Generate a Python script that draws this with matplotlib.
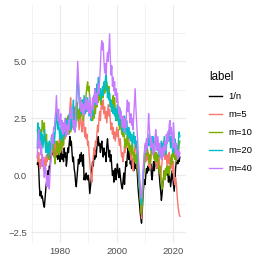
import numpy as np
import matplotlib
matplotlib.use('Agg')
import matplotlib.pyplot as plt
from matplotlib.ticker import MultipleLocator

plt.rcParams['font.family'] = ['Liberation Sans', 'DejaVu Sans']

# quarterly index, 1972 Q1 .. 2022 Q2
quarters = np.arange(1972, 2022.5, 0.25)

labels = ['1/n', 'm=5', 'm=10', 'm=20', 'm=40']
colors = ['#000000', '#F8766D', '#7CAE00', '#00BFC4', '#C77CFF']

series_1n = [
    0.5, 0.6, 0.3, -0.5,  -0.9, -0.7, -1.0, -0.9,  -1.1, -1.3, -1.4, -1.0,
    -0.6, -0.3, -0.1, 0.2,  0.0, 0.4, 0.3, 0.8,  1.1, 1.4, 0.9, 1.2,
    1.5, 1.0, 1.3, 0.8,  1.0, 0.7, 1.1, 0.9,  0.6, 1.0, 1.3, 0.7,
    0.9, 0.6, 1.2, 0.8,  1.0, 0.4, 0.7, 1.2,  1.0, 1.4, 1.7, 1.3,
    1.5, 1.0, 0.6, 0.8,  0.3, 0.1, -0.3, -0.5,  -0.1, 0.3, 0.7, 0.5,
    0.9, 0.6, 1.0, 0.7,  0.4, 0.9, -0.2, 0.0,  -0.2, 0.1, -0.1, -0.2,
    0.0, -0.3, -0.8, -0.5,  -0.2, 0.3, 0.6, 0.4,  0.9, 0.7, 1.1, 0.8,
    1.2, 1.5, 1.7, 1.3,  1.4, 1.0, 1.3, 1.5,  1.1, 0.8, 1.2, 0.9,
    1.0, 0.6, 1.3, 1.6,  1.2, 0.8, 1.1, 0.6,  0.9, 0.4, 0.0, 0.2,
    -0.3, 0.1, 0.3, -0.2,  0.2, 0.5, 0.1, -0.1,  0.3, 0.0, -0.3, -0.5,
    -0.6, -0.2, 0.1, -0.4,  0.2, 0.6, 0.4, 0.9,  1.2, 0.7, 1.0, 0.5,
    0.6, 0.3, 0.7, 0.5,  0.2, 0.6, 0.4, 0.3,  0.5, 0.1, -0.5, -0.9,
    -1.2, -1.6, -1.9, -2.1,  -1.6, -0.9, -0.5, -0.2,  -0.4, 0.0, 0.3, 0.1,
    0.4, 0.2, 0.6, 0.3,  0.5, 0.0, -0.2, 0.3,  0.6, 0.2, 0.5, 0.9,
    0.7, 0.3, 0.8, 0.4,  0.0, -0.4, -0.7, -1.1,  -0.8, -0.4, -0.1, 0.2,
    -0.1, 0.3, 0.0, 0.4,  0.1, -0.3, 0.2, -0.2,  -0.5, -0.2, 0.2, -0.1,
    -0.4, -0.7, -0.3, 0.3,  0.6, 0.8, 0.5, 0.7,  0.6, 0.8,
]

series_m5 = [
    0.8, 0.6, 1.0, 0.5,  0.3, 0.7, 0.4, 0.9,  0.6, 0.2, 0.5, 0.8,
    0.4, 0.9, 0.6, 1.0,  0.7, 1.2, 0.9, 1.3,  1.0, 1.4, 1.1, 0.8,
    1.2, 1.5, 1.0, 1.3,  0.9, 1.4, 1.1, 1.6,  1.3, 1.0, 1.5, 1.2,
    1.7, 1.4, 2.0, 1.6,  2.2, 1.8, 2.5, 2.1,  2.6, 2.2, 3.0, 3.4,
    2.9, 2.4, 2.7, 2.1,  2.5, 1.9, 2.2, 2.8,  3.2, 2.6, 2.3, 2.0,
    2.4, 2.8, 2.2, 1.9,  2.3, 2.6, 2.0, 1.7,  2.1, 1.6, 1.8, 1.3,
    1.5, 1.0, 0.6, 0.2,  -0.1, -0.3, 0.3, 0.8,  1.2, 0.9, 1.5, 1.3,
    1.8, 2.2, 1.9, 2.5,  2.8, 2.4, 3.0, 3.2,  2.9, 3.3, 2.7, 3.0,
    2.5, 2.8, 2.3, 2.7,  3.1, 2.6, 2.9, 2.4,  2.0, 2.3, 1.8, 2.1,
    1.6, 1.9, 1.5, 1.8,  2.1, 1.7, 2.0, 1.5,  1.3, 1.6, 1.1, 0.8,
    1.0, 0.6, 0.9, 1.3,  1.0, 1.5, 1.2, 1.8,  2.0, 1.6, 1.3, 1.0,
    0.7, 1.2, 0.5, 0.2,  0.6, 1.0, 1.5, 1.2,  0.8, 0.3, 0.6, 0.0,
    -0.3, -0.8, -1.4, -1.9,  -1.2, -0.5, 0.2, 0.5,  0.9, 0.6, 1.1, 0.7,
    1.0, 0.4, 0.7, 0.3,  0.6, 1.0, 1.5, 1.1,  0.8, 1.4, 0.9, 0.5,
    0.8, 0.3, 0.6, 1.0,  0.7, 0.2, -0.2, 0.3,  0.6, 1.1, 1.5, 1.0,
    0.7, 1.2, 0.8, 0.4,  0.9, 0.5, 1.0, 0.6,  0.3, 0.8, 0.5, 0.1,
    0.6, -0.2, -0.4, -0.1,  -0.3, -0.8, -1.2, -1.5,  -1.7, -1.8,
]

series_m10 = [
    2.0, 1.6, 1.2, 1.8,  1.4, 2.0, 1.7, 2.4,  2.2, 1.9, 2.3, 1.6,
    1.3, 1.8, 1.0, 1.4,  1.1, 0.7, 1.3, 0.9,  1.4, 1.1, 1.6, 1.2,
    0.9, 0.5, 0.8, 1.2,  1.5, 1.0, 1.4, 0.9,  1.2, 1.6, 1.1, 1.5,
    1.8, 1.3, 1.9, 2.3,  1.9, 2.4, 2.0, 2.6,  2.2, 1.8, 2.3, 1.9,
    2.5, 2.1, 2.7, 2.3,  2.6, 3.0, 2.4, 2.8,  3.2, 2.7, 2.4, 2.9,
    2.5, 3.0, 2.6, 3.3,  2.9, 2.4, 2.8, 3.4,  3.0, 3.6, 3.9, 4.1,
    3.7, 3.9, 3.3, 2.9,  2.6, 3.0, 2.4, 2.8,  2.5, 3.1, 2.7, 3.3,
    3.0, 3.5, 3.2, 3.7,  3.3, 3.6, 3.1, 3.5,  3.8, 3.4, 3.9, 3.6,
    4.0, 3.7, 4.1, 3.8,  3.5, 3.9, 3.4, 3.0,  3.3, 2.8, 3.2, 3.5,
    3.0, 3.4, 2.9, 2.6,  2.9, 2.4, 2.8, 2.3,  2.0, 2.5, 2.2, 1.8,
    2.1, 1.7, 2.0, 1.5,  1.2, 1.6, 1.3, 1.9,  1.5, 1.1, 1.4, 1.0,
    1.3, 0.9, 1.5, 1.1,  0.7, 1.0, 0.6, 0.9,  0.5, 0.8, 0.2, -0.3,
    -0.6, -1.0, -1.4, -1.7,  -1.2, -0.6, 0.0, 0.5,  0.8, 1.2, 0.9, 1.3,
    1.0, 0.6, 0.9, 0.5,  0.8, 1.3, 1.0, 1.4,  1.1, 0.7, 1.0, 0.6,
    1.0, 0.6, 0.9, 0.4,  0.1, 0.4, -0.1, -0.3,  -0.6, -0.4, -0.1, 0.2,
    -0.2, 0.3, 0.0, 0.4,  0.1, 0.4, 0.0, 0.3,  0.6, 0.9, 0.5, 1.2,
    0.8, 1.1, 0.7, 1.0,  0.6, 0.9, 1.2, 0.8,  1.3, 1.5,
]

series_m20 = [
    1.2, 2.3, 1.7, 2.1,  1.5, 1.9, 1.3, 1.8,  1.2, 1.6, 2.0, 1.4,
    1.0, 1.5, 1.2, 0.8,  1.1, 1.5, 1.0, 1.3,  1.7, 1.2, 1.5, 1.9,
    1.4, 1.8, 2.2, 2.8,  2.4, 2.0, 2.5, 1.9,  1.6, 2.1, 1.8, 1.5,
    1.9, 2.3, 1.7, 2.2,  2.5, 2.0, 2.4, 1.9,  2.3, 2.7, 2.2, 2.6,
    2.0, 2.4, 2.9, 3.3,  2.2, 2.6, 2.1, 2.8,  3.6, 4.4, 4.0, 3.3,
    2.9, 3.2, 2.7, 3.0,  3.3, 2.9, 3.5, 3.1,  2.7, 3.2, 2.8, 3.4,
    3.0, 2.6, 3.1, 2.7,  2.4, 2.9, 2.6, 3.2,  3.5, 3.1, 3.8, 3.4,
    4.0, 3.6, 4.3, 3.9,  3.5, 3.8, 3.3, 3.6,  3.9, 3.5, 4.1, 3.8,
    4.2, 4.5, 3.9, 3.4,  3.8, 3.3, 3.6, 3.0,  3.3, 2.8, 3.1, 2.7,
    3.0, 2.6, 2.9, 2.4,  2.8, 3.1, 2.6, 2.2,  2.5, 2.9, 2.4, 2.0,
    2.3, 1.9, 2.2, 2.6,  2.2, 1.8, 2.4, 2.0,  1.7, 2.1, 1.6, 1.9,
    1.5, 1.8, 1.3, 1.6,  1.9, 1.4, 1.7, 1.2,  1.5, 1.0, 0.6, 0.1,
    -0.4, -0.8, -1.1, -1.3,  -0.8, -0.2, 0.4, 0.9,  1.3, 1.0, 1.5, 1.2,
    1.6, 1.3, 1.8, 1.4,  1.1, 1.5, 1.2, 1.7,  1.4, 1.0, 1.3, 1.8,
    1.5, 1.1, 1.4, 0.9,  1.2, 0.8, 1.1, 1.5,  1.0, 1.4, 1.1, 1.7,
    1.3, 0.9, 1.2, 1.6,  1.9, 1.5, 2.0, 1.6,  1.2, 1.7, 1.3, 1.0,
    1.4, 1.1, 1.6, 1.3,  0.9, 1.3, 1.0, 1.5,  1.9, 1.7,
]

series_m40 = [
    0.8, 1.6, 2.0, 1.2,  1.5, 0.9, 1.3, 0.4,  0.8, 0.3, -0.1, 0.4,
    0.3, -0.2, -0.5, 0.0,  -0.4, -0.6, 0.1, 0.6,  1.1, 1.8, 1.4, 2.1,
    2.0, 2.5, 2.8, 3.5,  2.8, 2.4, 2.9, 2.3,  2.2, 2.7, 2.0, 2.4,
    1.8, 2.3, 1.9, 2.5,  2.1, 1.7, 2.2, 1.8,  2.4, 2.0, 2.6, 3.0,
    2.5, 2.9, 2.3, 2.0,  2.4, 1.9, 2.6, 3.3,  4.1, 5.0, 4.3, 3.5,
    3.0, 3.4, 2.8, 3.2,  2.7, 3.1, 2.6, 3.0,  3.4, 2.9, 3.3, 2.8,
    3.2, 2.7, 3.5, 3.0,  2.5, 3.0, 3.4, 2.9,  3.3, 3.8, 3.2, 3.6,
    3.1, 3.5, 4.0, 3.6,  4.2, 4.8, 5.6, 5.9,  5.5, 5.8, 5.0, 4.5,
    4.9, 4.4, 5.0, 5.4,  5.0, 5.6, 6.2, 5.1,  4.4, 4.8, 3.9, 4.3,
    3.7, 4.1, 3.5, 3.8,  3.2, 3.6, 3.0, 2.7,  3.0, 2.5, 2.8, 2.4,
    2.1, 2.6, 2.2, 1.9,  2.5, 2.1, 2.9, 3.3,  2.8, 3.2, 2.6, 2.3,
    2.7, 2.2, 2.5, 2.0,  2.6, 3.2, 3.8, 3.0,  2.4, 1.8, 1.2, 0.6,
    0.1, -0.4, -0.8, -1.0,  -0.5, 0.1, 0.6, 1.0,  1.4, 1.0, 1.6, 1.2,
    1.9, 2.7, 2.1, 1.6,  1.2, 1.7, 1.3, 0.9,  1.4, 1.0, 1.6, 2.0,
    1.5, 1.1, 1.7, 1.3,  0.9, 1.4, 1.0, 0.7,  1.2, 0.8, 1.3, 1.0,
    1.5, 1.1, 1.8, 1.4,  1.9, 1.5, 2.2, 2.4,  1.8, 2.1, 1.6, 1.2,
    2.3, 1.7, 1.2, 0.9,  1.4, 1.0, 0.7, 1.1,  0.8, 1.0,
]

all_series = [series_1n, series_m5, series_m10, series_m20, series_m40]

fig = plt.figure(figsize=(2.63, 2.63), dpi=100)
ax = fig.add_axes([0.118, 0.076, 0.589, 0.905])

for vals, lab, col in zip(all_series, labels, colors):
    ax.plot(quarters, vals, color=col, linewidth=1.0, label=lab)

ax.set_xlim(1969.8, 2024.4)
ax.set_ylim(-2.97, 7.47)
ax.xaxis.set_major_locator(MultipleLocator(20))
ax.xaxis.set_minor_locator(MultipleLocator(10))
ax.yaxis.set_minor_locator(MultipleLocator(1.25))
ax.grid(True, which='major', color='#EBEBEB', linewidth=0.9)
ax.grid(True, which='minor', color='#EBEBEB', linewidth=0.45)
ax.set_axisbelow(True)
for s in ax.spines.values():
    s.set_visible(False)
ax.tick_params(which='both', length=0, labelsize=6.8, labelcolor='#4D4D4D', pad=3)
# ggplot uses a true minus sign on the labels
ax.set_yticks([-2.5, 0, 2.5, 5.0])
ax.set_yticklabels(['\u22122.5', '0.0', '2.5', '5.0'])

leg = fig.legend(loc='upper left', bbox_to_anchor=(0.762, 0.762), frameon=False,
                 title='label', fontsize=6.8, title_fontsize=8.3,
                 handlelength=1.4, handletextpad=0.7, labelspacing=0.95,
                 alignment='left')

fig.savefig('out.png', dpi=100)
